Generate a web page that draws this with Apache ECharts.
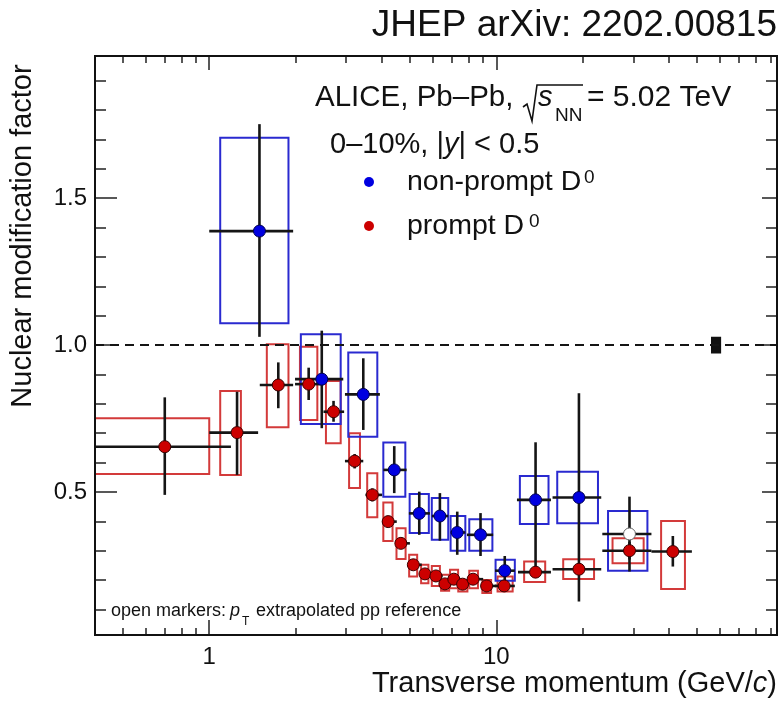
<!DOCTYPE html>
<html><head><meta charset="utf-8">
<script src="https://cdn.jsdelivr.net/npm/echarts@6/dist/echarts.min.js"></script>
<style>html,body{margin:0;padding:0;background:#fff}#c{width:780px;height:704px}</style>
</head><body><div id="c"></div>
<script>
// ---------- prompt D0 ----------
const promptPt   = [0.70,1.25,1.74,2.22,2.71,3.21,3.70,4.20,4.65,5.14,5.64,6.16,6.62,7.11,7.63,8.30,9.25,10.65,13.7,19.4,29.1,41.2];
const promptVal  = [0.654,0.702,0.864,0.867,0.773,0.605,0.490,0.399,0.325,0.252,0.221,0.214,0.187,0.203,0.186,0.203,0.180,0.180,0.227,0.237,0.300,0.297];
const promptErrLo= [0.490,0.558,0.785,0.813,0.739,0.580,0.468,0.380,0.310,0.238,0.208,0.200,0.174,0.190,0.173,0.190,0.168,0.166,0.212,0.222,0.270,0.246];
const promptErrHi= [0.822,0.841,0.941,0.923,0.810,0.629,0.512,0.418,0.340,0.266,0.234,0.228,0.200,0.216,0.199,0.216,0.192,0.194,0.242,0.252,0.330,0.350];
const promptBinLo= [0.4,1.0,1.5,1.99,2.5,2.97,3.5,4.0,4.5,5.0,5.5,6.0,6.5,7.0,7.5,8.0,9.0,9.9,11.9,15.7,23.4,34.7];
const promptBinHi= [1.19,1.48,1.96,2.5,2.95,3.44,4.0,4.5,5.0,5.5,6.0,6.5,7.0,7.5,8.0,9.0,10.0,11.6,15.5,23.2,34.7,48.0];
const promptSysXLo=[0.4,1.092,1.587,2.07,2.55,3.07,3.55,4.04,4.49,4.97,5.47,5.96,6.42,6.9,7.37,8.05,8.94,10.1,12.5,17.1,25.4,37.5];
const promptSysXHi=[1.0,1.289,1.888,2.38,2.87,3.35,3.85,4.35,4.83,5.3,5.8,6.36,6.85,7.36,7.93,8.63,9.59,11.4,14.8,21.9,32.6,45.4];
const promptSysLo= [0.561,0.558,0.72,0.745,0.666,0.513,0.414,0.333,0.272,0.212,0.189,0.18,0.164,0.172,0.161,0.172,0.156,0.161,0.193,0.204,0.257,0.17];
const promptSysHi= [0.751,0.844,1.003,0.994,0.878,0.70,0.564,0.464,0.376,0.286,0.252,0.248,0.218,0.235,0.20,0.232,0.20,0.212,0.263,0.271,0.342,0.401];

// ---------- non-prompt D0 ----------
const npPt    = [1.496,2.466,3.44,4.41,5.39,6.36,7.31,8.81,10.7,13.7,19.4];
const npVal   = [1.388,0.884,0.832,0.575,0.427,0.418,0.362,0.354,0.232,0.473,0.481];
const npErrLo = [1.028,0.717,0.711,0.496,0.354,0.334,0.286,0.282,0.19,0.235,0.127];
const npErrHi = [1.752,1.049,0.955,0.656,0.501,0.496,0.433,0.428,0.282,0.669,0.836];
const npBinLo = [1.0,1.99,2.97,4.04,4.96,5.96,6.93,7.9,9.9,11.8,15.7];
const npBinHi = [1.96,2.93,3.93,4.87,5.87,6.8,7.8,9.75,11.6,15.5,23.2];
const npSysXLo= [1.092,2.085,3.05,4.04,4.99,5.96,6.93,8.05,9.94,12.08,16.3];
const npSysXHi= [1.888,2.87,3.85,4.82,5.82,6.8,7.8,9.69,11.6,15.2,22.6];
const npSysLo = [1.074,0.731,0.688,0.484,0.36,0.337,0.30,0.30,0.198,0.391,0.393];
const npSysHi = [1.706,1.037,0.975,0.668,0.493,0.479,0.418,0.407,0.269,0.554,0.569];

// ---------- non-prompt D0 with pT-extrapolated pp reference (open marker) ----------
const extPt = [29.1], extVal = [0.357], extErrLo = [0.229], extErrHi = [0.484];
const extBinLo = [23.4], extBinHi = [34.7];
const extSysXLo = [24.5], extSysXHi = [33.6], extSysLo = [0.232], extSysHi = [0.435];

// ---------- normalisation uncertainty box at unity ----------
const normXLo = [56.4], normXHi = [60.2], normLo = [0.975], normHi = [1.025];
const unityY = 1.0;

// ---------- axes ----------
const xMin = 0.4, xMax = 95, yMin = 0.013, yMax = 1.984;
const xMajorTicks = [1, 10];
const xMinorTicks = [0.5,0.6,0.7,0.8,0.9,2,3,4,5,6,7,8,9,20,30,40,50,60,70,80,90];
const yMajorTicks = [0.5, 1.0, 1.5];
const yMinorTicks = [0.1,0.2,0.3,0.4,0.6,0.7,0.8,0.9,1.1,1.2,1.3,1.4,1.6,1.7,1.8,1.9];

const FONT = '"Liberation Sans", Arial, Helvetica, sans-serif';
const chart = echarts.init(document.getElementById('c'), null, {renderer: 'canvas'});

function boxSeries(xl, xh, yl, yh, color, z, fill) {
  return {
    type: 'custom', z: z, clip: true, silent: true,
    data: xl.map((v, i) => [xl[i], xh[i], yl[i], yh[i]]),
    encode: {x: [0, 1], y: [2, 3]},
    renderItem: (params, api) => {
      const p1 = api.coord([api.value(0), api.value(3)]);
      const p2 = api.coord([api.value(1), api.value(2)]);
      return {type: 'rect', shape: {x: p1[0], y: p1[1], width: p2[0] - p1[0], height: p2[1] - p1[1]},
        style: {fill: fill || 'none', stroke: color, lineWidth: 2}};
    }
  };
}
function errSeries(pt, val, xl, xh, yl, yh, z) {
  return {
    type: 'custom', z: z, clip: true, silent: true,
    data: pt.map((v, i) => [pt[i], val[i], xl[i], xh[i], yl[i], yh[i]]),
    encode: {x: [0, 2, 3], y: [1, 4, 5]},
    renderItem: (params, api) => {
      const c = api.coord([api.value(0), api.value(1)]);
      const l = api.coord([api.value(2), api.value(1)]);
      const r = api.coord([api.value(3), api.value(1)]);
      const b = api.coord([api.value(0), api.value(4)]);
      const t = api.coord([api.value(0), api.value(5)]);
      const st = {stroke: '#151515', lineWidth: 2.6};
      return {type: 'group', children: [
        {type: 'line', shape: {x1: l[0], y1: c[1], x2: r[0], y2: c[1]}, style: st},
        {type: 'line', shape: {x1: c[0], y1: t[1], x2: c[0], y2: b[1]}, style: st}
      ]};
    }
  };
}
function markers(pt, val, color, border, z) {
  return {type: 'scatter', z: z, silent: true, symbol: 'circle', symbolSize: 12,
    data: pt.map((v, i) => [pt[i], val[i]]),
    itemStyle: {color: color, borderColor: border, borderWidth: 1, opacity: 1}};
}
function xAx(pos, values, len, labels) {
  return {type: 'log', logBase: 10, min: xMin, max: xMax, position: pos, gridIndex: 0,
    axisLine: {show: false}, splitLine: {show: false}, minorTick: {show: false},
    axisTick: {show: true, inside: true, length: len, customValues: values, lineStyle: {color: '#222', width: 1.5}},
    axisLabel: labels ? {show: true, customValues: values, fontSize: 24, fontFamily: FONT, color: '#111', margin: 10,
      formatter: v => String(Math.round(v))} : {show: false}};
}
function yAx(pos, values, len, labels) {
  return {type: 'value', min: yMin, max: yMax, position: pos, gridIndex: 0,
    axisLine: {show: false}, splitLine: {show: false},
    axisTick: {show: true, inside: true, length: len, customValues: values, lineStyle: {color: '#222', width: 1.5}},
    axisLabel: labels ? {show: true, customValues: values, fontSize: 24, fontFamily: FONT, color: '#111', margin: 8,
      formatter: v => v.toFixed(1)} : {show: false}};
}

// text helpers: y is the baseline
const T = (x, y, text, size, extra) => ({type: 'text', x: x, y: y - 0.35 * size, z: 100,
  style: Object.assign({text: text, font: size + 'px ' + FONT, fill: '#111', verticalAlign: 'middle'}, extra || {})});
const TI = (x, y, text, size, extra) => ({type: 'text', x: x, y: y - 0.35 * size, z: 100,
  style: Object.assign({text: text, font: 'italic ' + size + 'px ' + FONT, fill: '#111', verticalAlign: 'middle'}, extra || {})});

const option = {
  animation: false,
  backgroundColor: '#fff',
  grid: {left: 95, right: 3, top: 56, bottom: 69, show: true, borderColor: '#111', borderWidth: 2, backgroundColor: 'transparent', z: 50},
  xAxis: [xAx('bottom', xMajorTicks, 15, true), xAx('bottom', xMinorTicks, 7, false),
          xAx('top', xMajorTicks, 14, false), xAx('top', xMinorTicks, 7, false)],
  yAxis: [yAx('left', yMajorTicks, 22, true), yAx('left', yMinorTicks, 11, false),
          yAx('right', yMajorTicks, 15, false), yAx('right', yMinorTicks, 11, false)],
  series: [
    Object.assign(boxSeries(promptSysXLo, promptSysXHi, promptSysLo, promptSysHi, '#d33a3a', 2), {
      markLine: {silent: true, symbol: 'none', label: {show: false},
        lineStyle: {type: [9, 6], color: '#151515', width: 2}, data: [{yAxis: unityY}]}}),
    boxSeries(npSysXLo, npSysXHi, npSysLo, npSysHi, '#2a2ad0', 3),
    boxSeries(extSysXLo, extSysXHi, extSysLo, extSysHi, '#2a2ad0', 3),
    boxSeries(normXLo, normXHi, normLo, normHi, '#111', 4, '#111'),
    errSeries(promptPt, promptVal, promptBinLo, promptBinHi, promptErrLo, promptErrHi, 5),
    errSeries(npPt, npVal, npBinLo, npBinHi, npErrLo, npErrHi, 5),
    errSeries(extPt, extVal, extBinLo, extBinHi, extErrLo, extErrHi, 5),
    markers(promptPt, promptVal, '#cc0000', '#3a0000', 6),
    markers(npPt, npVal, '#0000e0', '#000050', 6),
    markers(extPt, extVal, '#ffffff', '#666666', 6)
  ],
  graphic: [
    {type: 'text', right: 3, top: 7, z: 100, style: {text: 'JHEP arXiv: 2202.00815', font: '37px ' + FONT, fill: '#111'}},
    // y title
    {type: 'text', x: 23, y: 236, rotation: Math.PI / 2, z: 100,
      style: {text: 'Nuclear modification factor', font: '29px ' + FONT, fill: '#111', align: 'center', verticalAlign: 'middle'}},
    // x title
    {type: 'text', x: 777, y: 698, z: 100,
      style: {text: '{n|Transverse momentum (GeV/}{i|c}{n|)}', align: 'right', verticalAlign: 'bottom',
        rich: {n: {font: '29px ' + FONT, fill: '#111'}, i: {font: 'italic 29px ' + FONT, fill: '#111'}}}},
    // header
    T(315, 108, 'ALICE, Pb\u2013Pb,', 29.5),
    {type: 'polyline', z: 100, shape: {points: [[523, 107], [527, 104], [532, 121], [537, 85], [583, 85]]}, style: {stroke: '#111', lineWidth: 1.6, fill: 'none'}},
    TI(538, 108, 's', 29),
    T(555, 122, 'NN', 19),
    T(587, 108, '= 5.02 TeV', 30),
    T(330, 155, '{n|0\u201310%, |}{i|y}{n|| < 0.5}', 29, {rich: {n: {font: '29px ' + FONT, fill: '#111'}, i: {font: 'italic 29px ' + FONT, fill: '#111'}}}),
    {type: 'circle', z: 100, shape: {cx: 369, cy: 182, r: 5}, style: {fill: '#0000e0'}},
    {type: 'circle', z: 100, shape: {cx: 369, cy: 226, r: 5}, style: {fill: '#cc0000'}},
    T(407, 192, 'non-prompt D', 28.5),
    T(584, 184, '0', 19),
    T(407, 236, 'prompt D', 28.5),
    T(529, 228, '0', 19),
    // footer note
    T(111, 617, 'open markers:', 18),
    TI(230, 617, 'p', 18),
    T(242, 626, 'T', 12),
    T(256, 617, 'extrapolated pp reference', 18)
  ]
};
chart.setOption(option);
</script></body></html>
